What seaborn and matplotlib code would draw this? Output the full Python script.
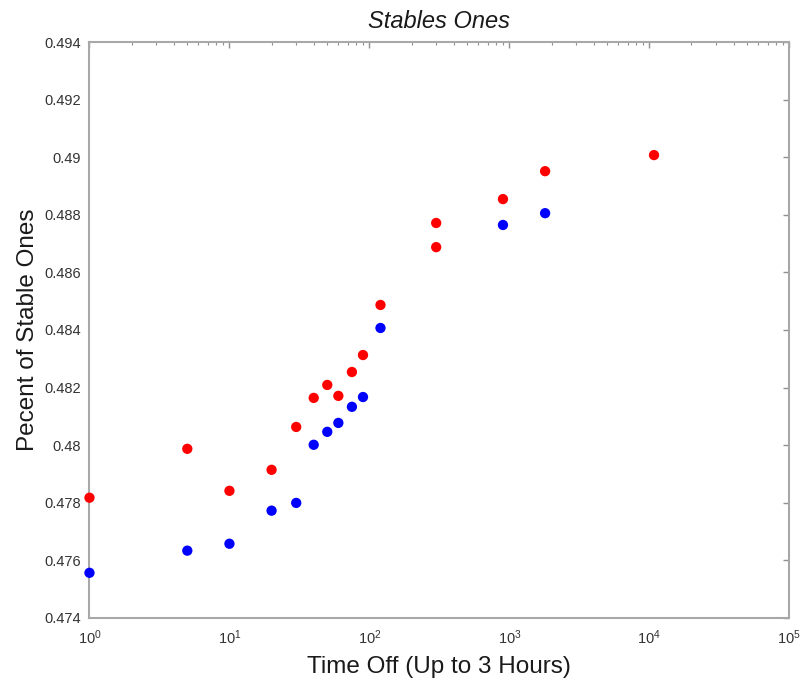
import numpy as np
import pandas as pd
import matplotlib
matplotlib.use("Agg")
import matplotlib.pyplot as plt
import matplotlib.ticker as mticker
import seaborn as sns

# Data
red_x = [1, 5, 10, 20, 30, 40, 50, 60, 75, 90, 120, 300, 300, 900, 1800, 10800]
red_y = [0.47817, 0.47987, 0.47841, 0.47914, 0.48063, 0.48164, 0.48209, 0.48171,
         0.48254, 0.48313, 0.48487, 0.48772, 0.48688, 0.48855, 0.48952, 0.49008]
blue_x = [1, 5, 10, 20, 30, 40, 50, 60, 75, 90, 120, 900, 1800]
blue_y = [0.47556, 0.47633, 0.47657, 0.47772, 0.47799, 0.48001, 0.48046, 0.48077,
          0.48133, 0.48167, 0.48407, 0.48765, 0.48806]
y_ticks = [0.474, 0.476, 0.478, 0.480, 0.482, 0.484, 0.486, 0.488, 0.490, 0.492, 0.494]

df = pd.DataFrame({
    "x": red_x + blue_x,
    "y": red_y + blue_y,
    "series": ["red"] * len(red_x) + ["blue"] * len(blue_x),
})

sns.set_style("white")
plt.rcParams["font.family"] = ["Liberation Sans", "DejaVu Sans"]

fig = plt.figure(figsize=(8.01, 6.79), dpi=100)
ax = fig.add_axes([0.1117, 0.0903, 0.8737, 0.8474])

sns.scatterplot(data=df, x="x", y="y", hue="series",
                palette={"red": "#ff0000", "blue": "#0000ff"},
                s=55, linewidth=0, marker="o", legend=False, ax=ax, zorder=3,
                clip_on=False)

ax.set_xscale("log")
ax.set_xlim(1, 1e5)
ax.set_ylim(0.474, 0.494)
ax.set_yticks(y_ticks)
ax.yaxis.set_major_formatter(mticker.FuncFormatter(lambda v, p: "%g" % round(v, 3)))
ax.xaxis.set_minor_locator(mticker.LogLocator(base=10, subs=np.arange(2, 10)))

for sp in ax.spines.values():
    sp.set_color("#a8a8a8")
    sp.set_linewidth(1.5)

ax.tick_params(which="both", direction="in", top=True, right=True,
               color="#909090", labelcolor="#333333", labelsize=10.5)
ax.tick_params(axis="x", which="major", pad=8)
ax.tick_params(axis="y", which="major", pad=6)
ax.tick_params(which="major", length=4, width=1)
ax.tick_params(which="minor", length=2.5, width=0.8)

ax.set_xlabel("Time Off (Up to 3 Hours)", fontsize=17.5, color="#1a1a1a", labelpad=6)
ax.set_ylabel("Pecent of Stable Ones", fontsize=17.5, color="#1a1a1a", labelpad=4)
ax.set_title("Stables Ones", fontsize=17, style="italic", color="#1a1a1a", pad=10)

fig.savefig("out.png", dpi=100)
